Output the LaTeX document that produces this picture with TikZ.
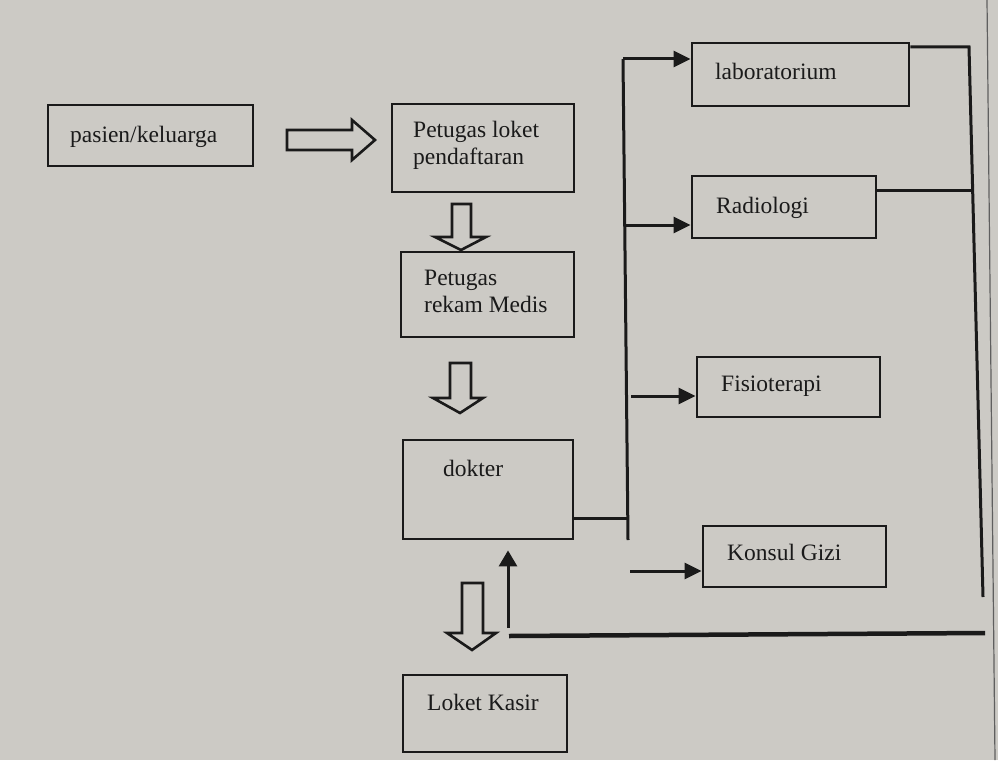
\documentclass[tikz,border=0pt]{standalone}
\usepackage{fontspec}
\setmainfont{Liberation Serif}
\usetikzlibrary{arrows.meta,calc}
\definecolor{paper}{HTML}{CCCAC5}
\definecolor{ink}{HTML}{1A1A1A}
\tikzset{
  box/.style={draw=ink, line width=2.8pt, rectangle, inner sep=0pt},
  lbl/.style={anchor=base west, inner sep=0pt, text=ink, font=\fontsize{23.5}{27}\selectfont, align=left},
  conn/.style={draw=ink, line width=3pt},
  thick conn/.style={draw=ink, line width=4.5pt},
  arr/.style={conn, -{Triangle[length=17pt,width=16pt]}},
  hollow/.style={draw=ink, line width=2.6pt, line join=miter, fill=paper}
}
\begin{document}
\begin{tikzpicture}[x=1pt,y=-1pt]
\useasboundingbox (0,0) rectangle (998,760);
\fill[paper] (0,0) rectangle (998,760);
\draw[ink!70, line width=1.2pt] (987,0) -- (995,760);

% boxes
\node[box, minimum width=205pt, minimum height=61pt] (pasien) at (150.5,135.5) {};
\node[box, minimum width=182pt, minimum height=88pt] (loket) at (483,148) {};
\node[box, minimum width=173pt, minimum height=85pt] (rekam) at (487.5,294.5) {};
\node[box, minimum width=170pt, minimum height=99pt] (dokter) at (488,489.5) {};
\node[box, minimum width=164pt, minimum height=77pt] (kasir) at (485,713.5) {};
\node[box, minimum width=217pt, minimum height=63pt] (lab) at (800.5,74.5) {};
\node[box, minimum width=184pt, minimum height=62pt] (radio) at (784,207) {};
\node[box, minimum width=183pt, minimum height=60pt] (fisio) at (788.5,387) {};
\node[box, minimum width=183pt, minimum height=61pt] (gizi) at (794.5,556.5) {};

% texts (base = baseline of last line)
\node[lbl] (tpasien) at (70,142) {pasien/keluarga};
\node[lbl] (tloket) at (413,164) {Petugas loket\\pendaftaran};
\node[lbl] (trekam) at (424,312) {Petugas\\rekam Medis};
\node[lbl] (tdokter) at (443,476) {dokter};
\node[lbl] (tkasir) at (427,710) {Loket Kasir};
\node[lbl] (tlab) at (715,79) {laboratorium};
\node[lbl] (tradio) at (716,213) {Radiologi};
\node[lbl] (tfisio) at (721,391) {Fisioterapi};
\node[lbl] (tgizi) at (727,560) {Konsul Gizi};

% hollow block arrows
\draw[hollow] (287,130) -- (352,130) -- (352,120) -- (375,140) -- (352,160) -- (352,150) -- (287,150) -- cycle;
\draw[hollow] (452,204) -- (471,204) -- (471,237) -- (486,237) -- (461,250) -- (435,237) -- (452,237) -- cycle;
\draw[hollow] (450,363) -- (471,363) -- (471,398) -- (483,398) -- (460,413) -- (433,398) -- (450,398) -- cycle;
\draw[hollow] (462,583) -- (483,583) -- (483,633) -- (496,633) -- (472,650) -- (447,633) -- (462,633) -- cycle;

% left bus
\coordinate (busTop) at (623,59);
\coordinate (busBot) at (628,540);
\coordinate (busDok) at (627,518);
\coordinate (busRad) at (624,225);
\coordinate (fisioStart) at (631,396);
\coordinate (giziStart) at (630,571);
\draw[conn] (busTop) -- (busBot);
\draw[conn] (dokter.east |- busDok) -- (busDok);
\draw[arr] (busTop) -- (lab.west |- busTop);
\draw[arr] (busRad) -- (radio.west |- busRad);
\draw[arr] (fisioStart) -- (fisio.west |- fisioStart);
\draw[arr] (giziStart) -- (gizi.west |- giziStart);

% right bus
\coordinate (rTop) at (969,47);
\coordinate (rRad) at (972.5,190);
\coordinate (rBot) at (983,597);
\draw[conn] (lab.east |- rTop) -- (rTop) -- (rBot);
\draw[conn] (radio.east |- rRad) -- (rRad);

% return line and up arrow
\coordinate (retStart) at (509,636);
\coordinate (retEnd) at (985,633);
\coordinate (upFoot) at (508,628);
\draw[thick conn] (retStart) -- (retEnd);
\draw[conn, -{Triangle[length=16pt,width=18pt]}] (upFoot) -- ($(upFoot |- dokter.south)+(0,10)$);
\end{tikzpicture}
\end{document}
